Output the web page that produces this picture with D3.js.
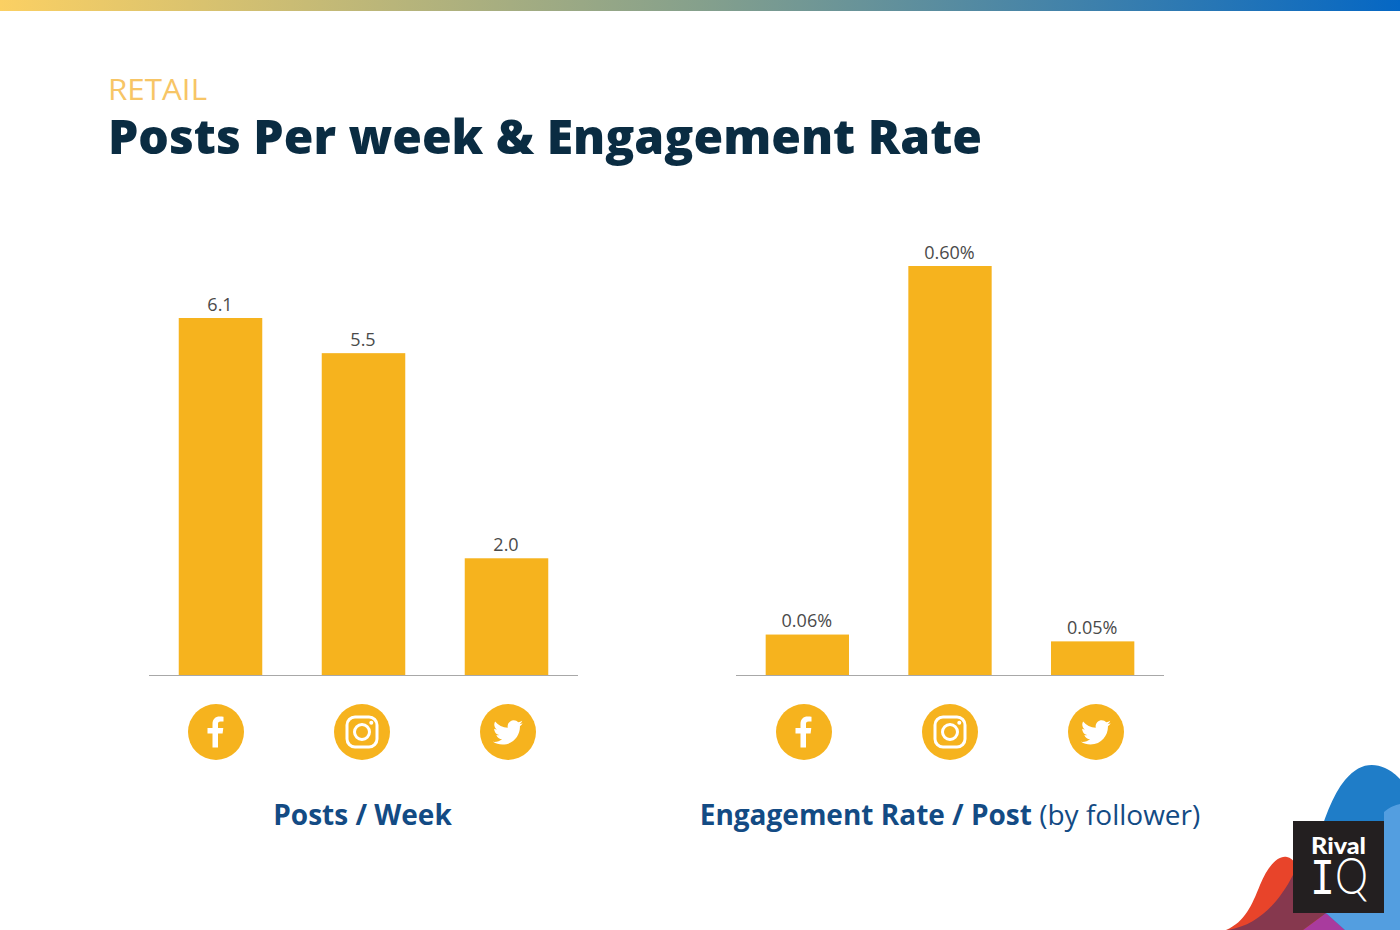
<!DOCTYPE html>
<html>
<head>
<meta charset="utf-8">
<script src="https://cdn.jsdelivr.net/npm/d3@7"></script>
<style>
  html, body { margin: 0; padding: 0; background: #fff; }
  svg { display: block; font-family: "Open Sans", sans-serif; }
</style>
</head>
<body>
<div id="chart"></div>
<script>
const networks = ["facebook", "instagram", "twitter"];
const postsPerWeek = [6.1, 5.5, 2.0];
const engagementRate = [0.06, 0.60, 0.05];
const postsLabels = ["6.1", "5.5", "2.0"];
const engagementLabels = ["0.06%", "0.60%", "0.05%"];

const barColor = "#f6b31e";
const navy = "#0a2c42";
const blue = "#134b84";

const svg = d3.select("#chart").append("svg")
  .attr("width", 1400)
  .attr("height", 930);

// top gradient strip
const grad = svg.append("defs").append("linearGradient").attr("id", "strip");
grad.append("stop").attr("offset", "0%").attr("stop-color", "#fbd063");
grad.append("stop").attr("offset", "50%").attr("stop-color", "#85a08c");
grad.append("stop").attr("offset", "100%").attr("stop-color", "#0567c4");
svg.append("rect")
  .attr("width", 1400)
  .attr("height", 11)
  .attr("fill", "url(#strip)");

svg.append("text")
  .attr("x", 108).attr("y", 99.5)
  .attr("font-size", 30).attr("fill", "#f7c566")
  .attr("textLength", 99).attr("lengthAdjust", "spacingAndGlyphs")
  .text("RETAIL");
svg.append("text")
  .attr("x", 108).attr("y", 154)
  .attr("font-size", 48).attr("font-weight", 800).attr("fill", navy)
  .attr("textLength", 874).attr("lengthAdjust", "spacingAndGlyphs")
  .text("Posts Per week & Engagement Rate");

function facebookIcon(g) {
  g.append("path")
    .attr("fill", "#fff")
    .attr("d", "M-3.5 15.5V1.5H-8.5V-4H-3.5V-8C-3.5 -13 -0.5 -15.5 3.5 -15.5C5.5 -15.5 7 -15.3 7.5 -15.2V-10.4H4.7C2.4 -10.4 2 -9.3 2 -7.8V-4H7.3L6.6 1.5H2V15.5Z");
}

function instagramIcon(g) {
  g.append("rect")
    .attr("x", -15).attr("y", -15).attr("width", 30).attr("height", 30).attr("rx", 8)
    .attr("fill", "none").attr("stroke", "#fff").attr("stroke-width", 3);
  g.append("circle")
    .attr("r", 7.5)
    .attr("fill", "none").attr("stroke", "#fff").attr("stroke-width", 3);
  g.append("circle")
    .attr("cx", 9.3).attr("cy", -9.3).attr("r", 2)
    .attr("fill", "#fff");
}

function twitterIcon(g) {
  g.append("path")
    .attr("fill", "#fff")
    .attr("transform", "translate(-15,-14.5) scale(1.25)")
    .attr("d", "M24 4.56c-.88.39-1.83.65-2.83.77 1.02-.61 1.8-1.58 2.17-2.72-.95.56-2.01.97-3.13 1.19C19.31 2.8 18.03 2.2 16.62 2.2c-2.72 0-4.92 2.2-4.92 4.92 0 .39.04.76.13 1.12C7.74 8.04 4.1 6.08 1.67 3.1c-.42.73-.66 1.57-.66 2.47 0 1.71.87 3.21 2.19 4.1-.81-.03-1.57-.25-2.23-.62v.06c0 2.38 1.7 4.37 3.95 4.82-.41.11-.85.17-1.3.17-.32 0-.62-.03-.93-.09.63 1.95 2.44 3.37 4.6 3.41-1.68 1.32-3.81 2.11-6.11 2.11-.4 0-.79-.02-1.18-.07 2.18 1.4 4.77 2.21 7.55 2.21 9.06 0 14-7.5 14-14 0-.21 0-.43-.02-.64.96-.7 1.8-1.56 2.46-2.55z");
}

const iconDrawers = { facebook: facebookIcon, instagram: instagramIcon, twitter: twitterIcon };

function drawPanel(opts) {
  const x = d3.scaleBand()
    .domain(networks)
    .range(opts.xRange)
    .paddingInner(0.416)
    .paddingOuter(0.208);
  const y = d3.scaleLinear()
    .domain(opts.yDomain)
    .range([675.5, opts.yTop]);
  const data = networks.map((n, i) => ({ net: n, value: opts.values[i], label: opts.labels[i] }));

  svg.append("g").selectAll("rect")
    .data(data)
    .enter()
    .append("rect")
    .attr("x", d => x(d.net))
    .attr("y", d => y(d.value))
    .attr("width", x.bandwidth())
    .attr("height", d => y(0) - y(d.value))
    .attr("fill", barColor);

  svg.append("g").selectAll("text")
    .data(data)
    .enter()
    .append("text")
    .attr("x", d => x(d.net) + x.bandwidth() / 2 - 0.5)
    .attr("y", d => y(d.value) - 7.5)
    .attr("text-anchor", "middle")
    .attr("font-size", 18)
    .attr("fill", "#4a4a4a")
    .text(d => d.label);

  svg.append("line")
    .attr("x1", opts.xRange[0]).attr("x2", opts.xRange[1])
    .attr("y1", y(0)).attr("y2", y(0))
    .attr("stroke", "#a8a8a8").attr("stroke-width", 1);

  // icons sit on their own, slightly wider spacing than the bars
  const iconX = d3.scalePoint().domain(networks).range(opts.iconRange);
  networks.forEach(n => {
    const g = svg.append("g").attr("transform", `translate(${iconX(n)},732)`);
    g.append("circle").attr("r", 28).attr("fill", barColor);
    iconDrawers[n](g);
  });
}

drawPanel({
  values: postsPerWeek,
  labels: postsLabels,
  xRange: [149, 578],
  yDomain: [0, 6.1],
  yTop: 318,
  iconRange: [216, 508]
});
drawPanel({
  values: engagementRate,
  labels: engagementLabels,
  xRange: [736, 1164],
  yDomain: [0, 0.6],
  yTop: 266,
  iconRange: [804, 1096]
});

svg.append("text")
  .attr("x", 362.5).attr("y", 825)
  .attr("text-anchor", "middle")
  .attr("font-size", 28).attr("font-weight", 700).attr("fill", blue)
  .text("Posts / Week");

const cap = svg.append("text")
  .attr("x", 950).attr("y", 825)
  .attr("text-anchor", "middle")
  .attr("font-size", 28).attr("fill", blue);
cap.append("tspan").attr("font-weight", 700).text("Engagement Rate / Post ");
cap.append("tspan").text("(by follower)");

// logo corner
const logo = svg.append("g");
logo.append("path").attr("fill", "#1f7dc8")
  .attr("d", "M1290 930C1310 880 1320 810 1345 780C1358 764 1372 762 1385 768C1392 771 1396 775 1400 779V930Z");
logo.append("path").attr("fill", "#e8442a")
  .attr("d", "M1226 930C1245 922 1252 905 1260 885C1268 866 1278 855 1287 857C1300 860 1310 890 1330 930Z");
logo.append("path").attr("fill", "#a93b9e")
  .attr("d", "M1303 930L1326 913L1345 930Z");
logo.append("path").attr("fill", "#86384e")
  .attr("d", "M1228 930C1260 925 1280 900 1293 875L1326 913L1303 930Z");
logo.append("path").attr("fill", "#539ee0")
  .attr("d", "M1384 812C1390 807 1395 805 1400 804V930H1345L1326 913L1384 860Z");
logo.append("rect")
  .attr("x", 1293).attr("y", 821).attr("width", 91).attr("height", 92)
  .attr("fill", "#231f20");
logo.append("text")
  .attr("x", 1311).attr("y", 854)
  .attr("font-family", "Lato")
  .attr("font-size", 22).attr("font-weight", 900).attr("fill", "#fff")
  .attr("textLength", 55).attr("lengthAdjust", "spacingAndGlyphs")
  .text("Rival");
const iq = logo.append("text")
  .attr("x", 1339).attr("y", 894)
  .attr("text-anchor", "middle")
  .attr("font-size", 52).attr("fill", "#fff")
  .attr("textLength", 58).attr("lengthAdjust", "spacingAndGlyphs");
iq.append("tspan").attr("font-family", "Liberation Mono").text("I");
iq.append("tspan").attr("font-family", "Lato").attr("font-weight", 300).text("Q");
</script>
</body>
</html>
